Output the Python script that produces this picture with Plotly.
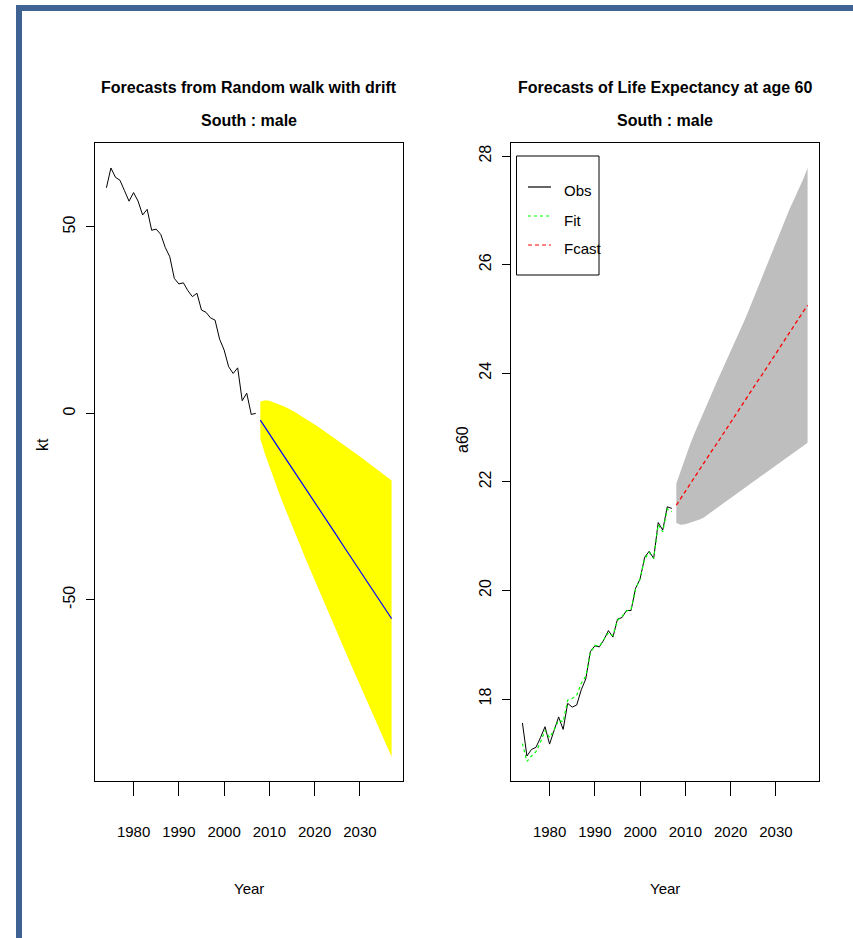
import plotly.graph_objects as go

W, H = 853, 938

# ---------------- data ----------------
obs_years = list(range(1974, 2008))
fc_years = list(range(2008, 2038))

kt_obs = [60.5, 65.8, 63.3, 62.5, 59.7, 56.9, 59.2, 56.9, 53.2, 54.7,
          49.1, 49.4, 48.0, 44.5, 42.0, 36.2, 34.7, 35.0, 32.9, 31.3,
          32.2, 27.7, 27.1, 25.6, 25.0, 19.9, 17.0, 12.5, 10.7, 12.2,
          3.4, 5.4, -0.3, 0.0]
kt_mean = [-1.8, -3.7, -5.5, -7.3, -9.2, -11.0, -12.9, -14.7, -16.5, -18.4,
           -20.2, -22.0, -23.9, -25.7, -27.5, -29.4, -31.2, -33.0, -34.9, -36.7,
           -38.5, -40.4, -42.2, -44.0, -45.9, -47.7, -49.6, -51.4, -53.2, -55.1]
kt_upper = [3.1, 3.5, 3.4, 3.0, 2.6, 2.0, 1.4, 0.8, 0.1, -0.7,
            -1.4, -2.2, -3.0, -3.8, -4.6, -5.5, -6.3, -7.2, -8.1, -8.9,
            -9.8, -10.7, -11.6, -12.5, -13.4, -14.3, -15.2, -16.1, -17.1, -18.0]
kt_lower = [-6.8, -10.8, -14.4, -17.7, -20.9, -24.1, -27.1, -30.1, -33.1, -36.0,
            -39.0, -41.8, -44.7, -47.6, -50.4, -53.2, -56.1, -58.9, -61.7, -64.5,
            -67.3, -70.0, -72.8, -75.6, -78.4, -81.1, -83.9, -86.6, -89.4, -92.1]

e60_obs = [17.56, 16.95, 17.07, 17.11, 17.29, 17.49, 17.17, 17.43, 17.67, 17.44,
           17.92, 17.85, 17.89, 18.17, 18.37, 18.87, 18.98, 18.96, 19.09, 19.26,
           19.14, 19.47, 19.50, 19.63, 19.63, 20.04, 20.21, 20.61, 20.72, 20.59,
           21.25, 21.11, 21.54, 21.51]
e60_fit = [17.18, 16.85, 16.95, 17.03, 17.21, 17.42, 17.29, 17.43, 17.61, 17.58,
           17.98, 18.01, 18.07, 18.29, 18.42, 18.85, 18.99, 18.97, 19.10, 19.22,
           19.17, 19.45, 19.52, 19.62, 19.65, 20.02, 20.22, 20.58, 20.70, 20.59,
           21.21, 21.08, 21.50, 21.45]
e60_fcast = [21.57, 21.70, 21.82, 21.95, 22.08, 22.21, 22.33, 22.46, 22.59, 22.71,
             22.84, 22.97, 23.09, 23.22, 23.35, 23.48, 23.60, 23.73, 23.86, 23.98,
             24.11, 24.24, 24.36, 24.49, 24.62, 24.75, 24.87, 25.00, 25.13, 25.25]
e60_upper = [21.97, 22.22, 22.46, 22.68, 22.89, 23.09, 23.28, 23.47, 23.66, 23.85,
             24.03, 24.22, 24.40, 24.58, 24.77, 24.96, 25.16, 25.37, 25.58, 25.79,
             26.00, 26.21, 26.42, 26.63, 26.83, 27.02, 27.20, 27.38, 27.57, 27.78]
e60_lower = [21.24, 21.21, 21.22, 21.24, 21.27, 21.30, 21.34, 21.39, 21.45, 21.51,
             21.57, 21.63, 21.69, 21.76, 21.82, 21.88, 21.94, 22.00, 22.06, 22.12,
             22.18, 22.24, 22.30, 22.36, 22.42, 22.48, 22.54, 22.60, 22.66, 22.72]

x_ticks = [1980, 1990, 2000, 2010, 2020, 2030]
x_tick_labels = ["1980", "1990", "2000", "2010", "2020", "2030"]
kt_ticks = [-50, 0, 50]
kt_tick_labels = ["-50", "0", "50"]
e60_ticks = [18, 20, 22, 24, 26, 28]
e60_tick_labels = ["18", "20", "22", "24", "26", "28"]

titles_left = ["Forecasts from Random walk with drift", "South : male"]
titles_right = ["Forecasts of Life Expectancy at age 60", "South : male"]
legend_labels = ["Obs", "Fit", "Fcast"]

# ---------------- helpers ----------------
FONT = "Liberation Sans, Arial, Helvetica, sans-serif"

def px(x):
    return x / W

def py(y):
    return 1 - y / H

fig = go.Figure()

# left panel
fig.add_trace(go.Scatter(
    x=fc_years + fc_years[::-1], y=kt_upper + kt_lower[::-1],
    fill="toself", fillcolor="#FFFF00", line=dict(width=0),
    mode="lines", hoverinfo="skip", showlegend=False, xaxis="x", yaxis="y"))
fig.add_trace(go.Scatter(
    x=obs_years, y=kt_obs, mode="lines", line=dict(color="black", width=1),
    showlegend=False, xaxis="x", yaxis="y"))
fig.add_trace(go.Scatter(
    x=fc_years, y=kt_mean, mode="lines", line=dict(color="#0000FF", width=1.2),
    showlegend=False, xaxis="x", yaxis="y"))

# right panel
fig.add_trace(go.Scatter(
    x=fc_years + fc_years[::-1], y=e60_upper + e60_lower[::-1],
    fill="toself", fillcolor="#BEBEBE", line=dict(width=0),
    mode="lines", hoverinfo="skip", showlegend=False, xaxis="x2", yaxis="y2"))
fig.add_trace(go.Scatter(
    x=obs_years, y=e60_obs, mode="lines", line=dict(color="black", width=1),
    showlegend=False, xaxis="x2", yaxis="y2"))
fig.add_trace(go.Scatter(
    x=obs_years, y=e60_fit, mode="lines",
    line=dict(color="#00FF00", width=1.2, dash="dot"),
    showlegend=False, xaxis="x2", yaxis="y2"))
fig.add_trace(go.Scatter(
    x=fc_years, y=e60_fcast, mode="lines",
    line=dict(color="#FF0000", width=1.3, dash="4px,3px"),
    showlegend=False, xaxis="x2", yaxis="y2"))

xr = [1971.48, 2039.52]
xtickfont = dict(family=FONT, size=15, color="black")
ytickfont = dict(family=FONT, size=16, color="black")

common_x = dict(range=xr, tickvals=x_ticks, ticktext=x_tick_labels,
                showline=True, linecolor="black", linewidth=1, mirror=True,
                ticks="outside", ticklen=14, tickwidth=1, tickcolor="black",
                showgrid=False, zeroline=False, tickfont=xtickfont,
                ticklabelstandoff=23, fixedrange=True)
common_y = dict(showline=True, linecolor="black", linewidth=1, mirror=True,
                ticks="outside", ticklen=8, tickwidth=1, tickcolor="black",
                showgrid=False, zeroline=False, tickfont=ytickfont,
                tickangle=-90, ticklabelstandoff=5, fixedrange=True)

fig.update_layout(
    width=W, height=H,
    margin=dict(l=0, r=0, t=0, b=0),
    paper_bgcolor="white", plot_bgcolor="white",
    showlegend=False,
    xaxis=dict(domain=[px(95), px(403)], anchor="y", **common_x),
    yaxis=dict(domain=[py(781), py(143)], anchor="x", range=[-98.6, 72.5],
               tickvals=kt_ticks, ticktext=kt_tick_labels, **common_y),
    xaxis2=dict(domain=[px(511), px(819)], anchor="y2", **common_x),
    yaxis2=dict(domain=[py(781), py(143)], anchor="x2", range=[16.49, 28.24],
                tickvals=e60_ticks, ticktext=e60_tick_labels, **common_y),
)

annotations = []
# titles
for cx, lines in [(249, titles_left), (665, titles_right)]:
    for yy, t in zip([87, 121], lines):
        annotations.append(dict(x=px(cx), y=py(yy), xref="paper", yref="paper",
                                text="<b>%s</b>" % t, showarrow=False,
                                xanchor="center", yanchor="middle",
                                font=dict(family=FONT, size=16, color="black")))
# x titles
for cx in [249, 665]:
    annotations.append(dict(x=px(cx), y=py(888), xref="paper", yref="paper",
                            text="Year", showarrow=False, xanchor="center",
                            yanchor="middle",
                            font=dict(family=FONT, size=15, color="black")))
# y titles
annotations.append(dict(x=px(42), y=py(445), xref="paper", yref="paper",
                        text="kt", showarrow=False, textangle=-90,
                        xanchor="center", yanchor="middle",
                        font=dict(family=FONT, size=16, color="black")))
annotations.append(dict(x=px(462), y=py(440), xref="paper", yref="paper",
                        text="a60", showarrow=False, textangle=-90,
                        xanchor="center", yanchor="middle",
                        font=dict(family=FONT, size=16, color="black")))
# legend text
for yy, t in zip([190, 220, 249], legend_labels):
    annotations.append(dict(x=px(562), y=py(yy), xref="paper", yref="paper",
                            text=t, showarrow=False, xanchor="left",
                            yanchor="middle",
                            font=dict(family=FONT, size=15, color="black")))

shapes = []
# blue frame
shapes.append(dict(type="rect", xref="paper", yref="paper",
                   x0=px(16), x1=px(22), y0=0, y1=py(5),
                   fillcolor="#3E6392", line=dict(width=0)))
shapes.append(dict(type="rect", xref="paper", yref="paper",
                   x0=px(16), x1=1, y0=py(11), y1=py(5),
                   fillcolor="#3E6392", line=dict(width=0)))
# legend box
shapes.append(dict(type="rect", xref="paper", yref="paper",
                   x0=px(516.5), x1=px(599), y0=py(275), y1=py(156),
                   fillcolor="white", line=dict(color="black", width=1)))
for yy, col, dash, w in [(187, "black", "solid", 1.2), (216, "#00FF00", "dot", 1.2),
                         (245, "#FF0000", "4px,3px", 1.2)]:
    shapes.append(dict(type="line", xref="paper", yref="paper",
                       x0=px(528), x1=px(551), y0=py(yy), y1=py(yy),
                       line=dict(color=col, width=w, dash=dash)))

fig.update_layout(annotations=annotations, shapes=shapes)

fig.write_html(
    "out.html",
    config={"displayModeBar": False},
    post_script="document.body.style.margin='0px';document.body.style.overflow='hidden';",
)
